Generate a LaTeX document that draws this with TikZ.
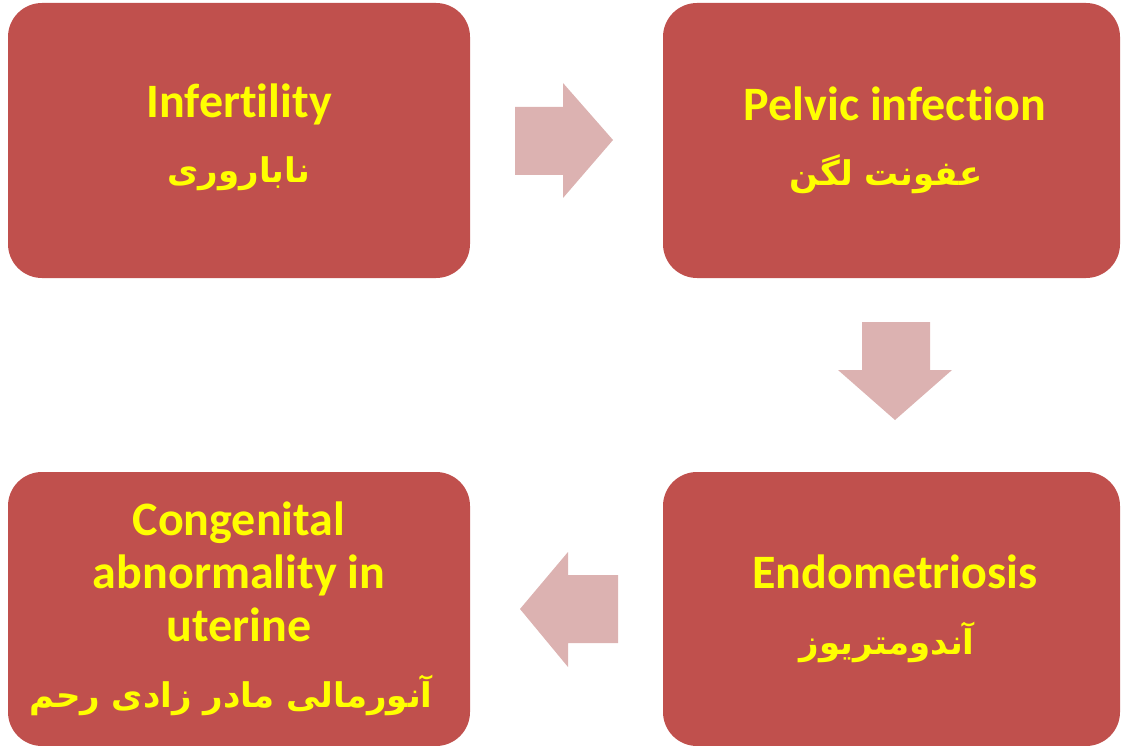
\documentclass[tikz,border=0pt]{standalone}
\usepackage{fontspec}
\setmainfont[Ligatures=NoCommon]{Carlito}
\newfontfamily\fa[Script=Arabic]{DejaVu Sans}
\TeXXeTstate=1
\definecolor{boxred}{HTML}{C0504D}
\definecolor{arrowpink}{HTML}{DCB2B1}
\definecolor{txtyellow}{HTML}{FFFF00}
\begin{document}
\begin{tikzpicture}[x=1pt,y=-1pt,
  card/.style={fill=boxred, rounded corners=34pt},
  entxt/.style={text=txtyellow, font=\fontsize{48}{53}\selectfont\bfseries, align=center, inner sep=0pt},
  fatxt/.style={text=txtyellow, font=\fontsize{34}{40}\selectfont\fa\bfseries, inner sep=0pt},
  blockarrow/.style={fill=arrowpink}]
\useasboundingbox (0,0) rectangle (1122,746);

% four cards
\fill[card] (8,3) rectangle (470,278);
\fill[card] (663,3) rectangle (1120,278);
\fill[card] (663,472) rectangle (1120,746);
\fill[card] (8,472) rectangle (470,746);

% card texts
\node[entxt] (infE) at (239,104) {Infertility};
\node[fatxt] (infF) at (239,174) {\beginR ناباروری\endR};
\node[entxt] (pelE) at (895,104) {Pelvic infection};
\node[fatxt] (pelF) at (886,174) {\beginR عفونت لگن\endR};
\node[entxt] (endE) at (895,572) {Endometriosis};
\node[fatxt] (endF) at (887,642) {\beginR آندومتریوز\endR};
\node[entxt] (conE) at (239,572) {Congenital\\abnormality in\\uterine};
\node[fatxt] (conF) at (231,695) {\beginR آنورمالی مادر زادی رحم\endR};

% block arrows between the cards
\fill[blockarrow] (515,107) -- (563,107) -- (563,83) -- (613,140) -- (563,198) -- (563,175) -- (515,175) -- cycle;
\fill[blockarrow] (862,322) -- (930,322) -- (930,370) -- (952,370) -- (895,420) -- (838,370) -- (862,370) -- cycle;
\fill[blockarrow] (618,575) -- (568,575) -- (568,552) -- (520,609) -- (568,667) -- (568,643) -- (618,643) -- cycle;
\end{tikzpicture}
\end{document}
